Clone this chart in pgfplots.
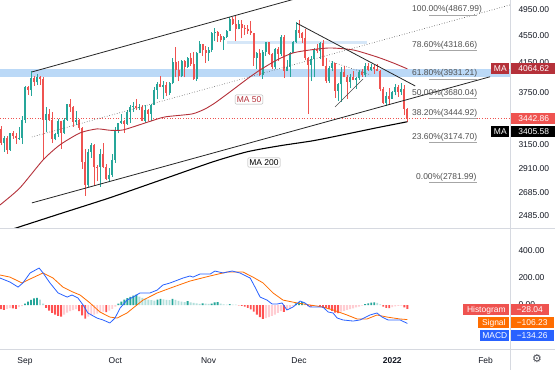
\documentclass[border=0pt]{standalone}
\usepackage{pgfplots}
\pgfplotsset{compat=1.18}
\usepackage{pgfplotstable}
\usepackage{fontspec}
\setmainfont{Liberation Sans}
\newfontfamily\symfont{DejaVu Sans}
\newcommand\tvfont{\fontsize{8.5}{10}\selectfont}
\definecolor{cgreen}{HTML}{26A69A}
\definecolor{cred}{HTML}{EF5350}
\definecolor{ma50}{HTML}{B5313A}
\definecolor{bandblue}{HTML}{BBD9F7}
\definecolor{bandblue2}{HTML}{D6E7F8}
\definecolor{hdg}{HTML}{26A69A}
\definecolor{hlg}{HTML}{B2DFDB}
\definecolor{hdr}{HTML}{FF5252}
\definecolor{hlr}{HTML}{FFCDD2}
\definecolor{macdblue}{HTML}{2962FF}
\definecolor{sigorange}{HTML}{FF6D00}
\definecolor{txt}{HTML}{131722}
\definecolor{fibtxt}{HTML}{505050}
\definecolor{sep}{HTML}{D6D9E0}

\pgfplotstableread{
d o h l c
-8 3325 3360 3150 3175
-7 3175 3250 3080 3225
-6 3225 3250 3060 3100
-5 3100 3285 3090 3275
-4 3275 3300 3215 3245
-3 3245 3280 3165 3225
-2 3225 3350 3205 3230
-1 3230 3470 3160 3430
0 3430 3840 3390 3830
1 3830 3840 3730 3785
2 3785 4030 3715 3940
3 3940 3970 3840 3885
4 3885 3990 3850 3950
5 3950 3970 3850 3925
6 3925 3950 3000 3430
7 3430 3575 3290 3495
8 3495 3550 3420 3425
9 3425 3520 3170 3210
10 3210 3285 3200 3265
11 3265 3440 3240 3410
12 3410 3420 3110 3285
13 3285 3450 3270 3430
14 3430 3620 3420 3610
15 3610 3680 3520 3575
16 3575 3590 3350 3400
17 3400 3530 3365 3430
18 3430 3440 3310 3330
19 3330 3350 2910 2975
20 2975 3110 2660 2760
21 2760 3110 2740 3080
22 3080 3170 3020 3155
23 3155 3160 2750 2930
24 2930 2950 2790 2925
25 2925 3110 2740 3060
26 3060 3170 2920 2930
27 2930 2960 2800 2810
28 2810 2920 2790 2850
29 2850 3055 2835 3000
30 3000 3350 2970 3310
31 3310 3390 3275 3390
32 3390 3490 3380 3420
33 3420 3430 3280 3385
34 3385 3540 3370 3515
35 3515 3600 3390 3580
36 3580 3640 3520 3590
37 3590 3670 3540 3560
38 3560 3620 3540 3575
39 3575 3600 3410 3415
40 3415 3600 3395 3545
41 3545 3550 3410 3495
42 3495 3615 3410 3605
43 3605 3820 3600 3790
44 3790 3890 3680 3865
45 3865 3970 3820 3830
46 3830 3900 3680 3850
47 3850 3890 3710 3745
48 3745 3890 3730 3880
49 3880 4210 3860 4155
50 4155 4370 3950 4055
51 4055 4170 3900 3975
52 3975 4180 3950 4170
53 4170 4190 3950 4085
54 4085 4230 4080 4220
55 4220 4290 4110 4130
56 4130 4300 3920 3925
57 3925 4300 3900 4285
58 4285 4460 4280 4415
59 4415 4420 4240 4325
60 4325 4390 4150 4290
61 4290 4370 4170 4325
62 4325 4600 4300 4590
63 4590 4665 4460 4605
64 4605 4610 4450 4535
65 4535 4560 4440 4475
66 4475 4530 4330 4520
67 4520 4630 4510 4620
68 4620 4830 4610 4810
69 4810 4840 4710 4730
70 4730 4868 4460 4640
71 4640 4780 4640 4725
72 4725 4790 4500 4665
73 4665 4710 4550 4650
74 4650 4700 4570 4620
75 4620 4770 4550 4575
76 4575 4580 4110 4210
77 4210 4300 4060 4290
78 4290 4340 3970 3985
79 3985 4330 3930 4300
80 4300 4440 4250 4440
81 4440 4450 4260 4270
82 4270 4280 4060 4085
83 4085 4360 4060 4340
84 4340 4370 4170 4270
85 4270 4550 4250 4525
86 4525 4550 3940 4040
87 4040 4180 4030 4095
88 4095 4300 3960 4290
89 4290 4460 4280 4445
90 4445 4760 4430 4630
91 4630 4780 4510 4585
92 4585 4600 4430 4510
93 4510 4650 4180 4220
94 4220 4230 3500 4120
95 4120 4240 3900 4200
96 4200 4360 3950 4350
97 4350 4420 4280 4310
98 4310 4440 4200 4435
99 4435 4480 4100 4110
100 4110 4220 3880 3900
101 3900 4100 3880 4080
102 4080 4170 4030 4140
103 4140 4150 3690 3780
104 3780 3880 3650 3860
105 3860 4090 3640 4020
106 4020 4100 3950 3960
107 3960 3980 3680 3890
108 3890 3990 3810 3960
109 3960 4040 3910 3920
110 3920 3960 3800 3940
111 3940 4050 3920 4020
112 4020 4060 3960 3980
113 3980 4140 3960 4110
114 4110 4150 4030 4045
115 4045 4130 4040 4095
116 4095 4120 4000 4065
117 4065 4125 4035 4040
118 4040 4045 3770 3800
119 3800 3830 3610 3630
120 3630 3760 3590 3710
121 3710 3810 3620 3680
122 3680 3770 3675 3765
123 3765 3860 3720 3830
124 3830 3850 3700 3760
125 3760 3880 3730 3795
126 3795 3850 3480 3550
127 3550 3560 3400 3442.86
}\candles

\pgfplotstableread{
d h k
-8 -30 3
-7 -35 3
-6 -28 4
-5 -22 4
-4 -25 3
-3 -28 3
-2 -15 4
-1 -8 4
0 10 1
1 25 1
2 38 1
3 48 1
4 52 1
5 40 2
6 10 2
7 -20 3
8 -40 3
9 -58 3
10 -70 3
11 -80 3
12 -85 3
13 -70 4
14 -55 4
15 -45 4
16 -38 4
17 -30 4
18 -45 3
19 -75 3
20 -100 3
21 -85 4
22 -75 4
23 -70 4
24 -62 4
25 -55 4
26 -48 4
27 -52 3
28 -40 4
29 -28 4
30 -12 4
31 10 1
32 25 1
33 40 1
34 50 1
35 60 1
36 68 1
37 75 1
38 62 2
39 52 2
40 46 2
41 40 2
42 35 2
43 33 2
44 40 1
45 45 1
46 42 2
47 38 2
48 35 2
49 44 1
50 38 2
51 30 2
52 25 2
53 22 2
54 28 1
55 20 2
56 15 2
57 12 2
58 8 2
59 12 1
60 10 2
61 8 2
62 10 1
63 20 1
64 22 1
65 10 2
66 5 2
67 3 2
68 6 1
69 3 2
70 2 2
71 -2 3
72 -6 3
73 -12 3
74 -20 3
75 -32 3
76 -48 3
77 -70 3
78 -88 3
79 -102 3
80 -95 4
81 -88 4
82 -80 4
83 -70 4
84 -58 4
85 -45 4
86 -50 3
87 -38 4
88 -22 4
89 -8 4
90 12 1
91 20 1
92 22 1
93 12 2
94 -8 3
95 -12 3
96 -6 4
97 -5 4
98 -10 3
99 -20 3
100 -22 3
101 -30 3
102 -42 3
103 -55 3
104 -60 3
105 -48 4
106 -42 4
107 -36 4
108 -30 4
109 -24 4
110 -18 4
111 -12 4
112 -4 4
113 6 1
114 12 1
115 17 1
116 20 1
117 15 2
118 5 2
119 -12 3
120 -20 3
121 -22 3
122 -16 4
123 -10 4
124 -7 4
125 -5 4
126 -18 3
127 -28.04 3
}\hist

\pgfplotstablegetrowsof{\candles}
\pgfmathtruncatemacro{\lastrow}{\pgfplotsretval-1}

\tikzset{lbl/.style={font=\tvfont, inner sep=0pt, minimum height=11bp, text=white}}

\begin{document}
\begin{tikzpicture}
\useasboundingbox (0,0) rectangle (555bp,370bp);
\fill[white] (0,0) rectangle (555bp,370bp);

% ---------- main price panel ----------
\begin{axis}[
  at={(0bp,142bp)}, anchor=south west,
  scale only axis, width=510bp, height=228bp,
  xmin=-8.3, xmax=161.1,
  ymode=log, ymin=2387, ymax=5118,
  axis line style={draw=none},
  xtick=\empty,
  ytick={2485,2685,2910,3150,3750,4150,4550,4950},
  yticklabels={2485.00,2685.00,2910.00,3150.00,3750.00,4150.00,4550.00,4950.00},
  minor ytick={},
  yticklabel pos=right,
  major tick length=0pt, minor tick length=0pt,
  tick style={draw=none},
  yticklabel style={anchor=west, xshift=5bp, font=\tvfont, text=txt},
  clip=true,
]
% horizontal zones
\addplot[fill=bandblue, draw=none, forget plot] coordinates {(-8.3,3950) (161.1,3950) (161.1,4065) (-8.3,4065)} -- cycle;
\addplot[fill=bandblue2, draw=none, forget plot] coordinates {(67.1,4411) (113.6,4411) (113.6,4465) (67.1,4465)} -- cycle;
% last price dotted line
\addplot[cred, dotted, line width=0.7bp, forget plot] coordinates {(-8.3,3442.86) (161.1,3442.86)};

% candles
\pgfplotsinvokeforeach{0,...,\lastrow}{%
  \pgfplotstablegetelem{#1}{d}\of\candles \edef\cd{\pgfplotsretval}%
  \pgfplotstablegetelem{#1}{o}\of\candles \edef\co{\pgfplotsretval}%
  \pgfplotstablegetelem{#1}{h}\of\candles \edef\ch{\pgfplotsretval}%
  \pgfplotstablegetelem{#1}{l}\of\candles \edef\cl{\pgfplotsretval}%
  \pgfplotstablegetelem{#1}{c}\of\candles \edef\cc{\pgfplotsretval}%
  \ifdim\cc pt<\co pt \def\ccol{cred}\else\def\ccol{cgreen}\fi
  \edef\candleplot{%
    \noexpand\addplot[\ccol, line width=0.7bp, forget plot] coordinates {(\cd,\cl) (\cd,\ch)};%
    \noexpand\addplot[\ccol, line width=2bp, forget plot] coordinates {(\cd,\co) (\cd,\cc)};%
  }%
  \candleplot
}

% MA 50
\addplot[ma50, line width=0.9bp, smooth, tension=0.4, forget plot] coordinates {
(-8.3,2578) (-1.7,2729) (6.0,2997) (11.6,3152) (18.3,3281) (23.9,3325) (28.2,3310) (32.6,3314)
(40.9,3403) (46.5,3461) (55.5,3496) (59.8,3555) (63.1,3627) (68.1,3763) (73.8,3930) (78.1,4050)
(83.7,4188) (89.0,4287) (94.7,4330) (101.3,4359) (109.0,4330) (116.9,4230) (122.3,4146) (127,4064.62)};
% MA 200
\addplot[black, line width=1.1bp, smooth, tension=0.4, forget plot] coordinates {
(-8.3,2345) (-2.7,2389) (11.6,2503) (28.2,2641) (47.2,2823) (62.5,2979) (73.8,3080)
(84.7,3143) (95.7,3196) (105.6,3260) (116.9,3338) (127,3405.58)};

% channel and trend lines
\addplot[black!85, line width=0.8bp, forget plot] coordinates {(2.3,4023) (91.4,5161)};
\addplot[black!85, line width=0.8bp, forget plot] coordinates {(2.3,2596) (154.5,3959)};
\addplot[black!70, dotted, line width=0.6bp, forget plot] coordinates {(2.3,3237) (161.1,5033)};
\addplot[black!85, line width=0.8bp, forget plot] coordinates {(90.3,4735) (129.6,3839)};
\addplot[black!70, dotted, line width=0.6bp, forget plot] coordinates {(101,4174) (114.9,3983)};
\addplot[black!70, line width=0.5bp, forget plot] coordinates {(103,3579) (112.3,3930)};

% fibonacci levels
\addplot[gray!70, line width=0.5bp, forget plot] coordinates {(134.2,4867.99) (150,4867.99)};
\addplot[gray!70, line width=0.5bp, forget plot] coordinates {(134.2,4318.66) (150,4318.66)};
\addplot[gray!70, line width=0.5bp, forget plot] coordinates {(134.2,3931.21) (150,3931.21)};
\addplot[gray!70, line width=0.5bp, forget plot] coordinates {(134.2,3680.04) (150,3680.04)};
\addplot[gray!70, line width=0.5bp, forget plot] coordinates {(134.2,3444.92) (150,3444.92)};
\addplot[gray!70, line width=0.5bp, forget plot] coordinates {(134.2,3174.70) (150,3174.70)};
\addplot[gray!70, line width=0.5bp, forget plot] coordinates {(134.2,2781.99) (150,2781.99)};
\end{axis}

% ---------- MACD panel ----------
\begin{axis}[
  at={(0bp,21bp)}, anchor=south west,
  scale only axis, width=510bp, height=120bp,
  xmin=-8.3, xmax=161.1, ymin=-321, ymax=555,
  axis line style={draw=none},
  xtick={0,30,61,91,122,153},
  xticklabels={Sep,Oct,Nov,Dec,\textbf{2022},Feb},
  xticklabel style={anchor=base, yshift=-14bp, font=\tvfont, text=txt},
  ytick={0,200,400}, yticklabels={0.00,200.00,400.00},
  yticklabel pos=right,
  yticklabel style={anchor=west, xshift=5bp, font=\tvfont, text=txt},
  major tick length=0pt, tick style={draw=none},
  clip=true,
]
\addplot[ybar, bar width=1.9bp, fill=hdg, draw=none, forget plot, y filter/.expression={\thisrow{k}==1 ? y : nan}] table[x=d, y=h] {\hist};
\addplot[ybar, bar width=1.9bp, fill=hlg, draw=none, forget plot, y filter/.expression={\thisrow{k}==2 ? y : nan}] table[x=d, y=h] {\hist};
\addplot[ybar, bar width=1.9bp, fill=hdr, draw=none, forget plot, y filter/.expression={\thisrow{k}==3 ? y : nan}] table[x=d, y=h] {\hist};
\addplot[ybar, bar width=1.9bp, fill=hlr, draw=none, forget plot, y filter/.expression={\thisrow{k}==4 ? y : nan}] table[x=d, y=h] {\hist};
% signal
\addplot[sigorange, line width=0.8bp, forget plot] coordinates {
(-8.3,219) (-5.0,204) (-1.0,161) (1.7,190) (6.0,234) (9.3,197) (12.6,131) (15.9,95) (18.3,73)
(21.6,15) (24.9,-51) (28.2,-88) (30.6,-95) (33.9,-58) (35.9,-22) (39.2,36) (43.9,88) (49.2,131)
(54.8,175) (61.5,212) (67.1,241) (72.4,241) (75.7,204) (79.1,161) (82.4,88) (85.7,36) (90.4,15)
(94.7,0) (99.0,-15) (102.3,-36) (107.0,-73) (110.3,-102) (113.6,-102) (116.9,-73) (120.3,-88)
(124.6,-102) (127,-106.23)};
% MACD
\addplot[macdblue, line width=0.8bp, forget plot] coordinates {
(-8.3,197) (-5.0,168) (-2.3,131) (-0.7,161) (1.7,234) (4.7,270) (6.0,234) (8.3,161) (11.0,88)
(14.0,58) (15.6,73) (17.6,51) (19.3,0) (20.9,-58) (23.9,-95) (25.9,-109) (28.2,-131) (29.9,-95)
(31.6,-22) (33.9,36) (35.9,58) (38.2,88) (41.5,88) (43.9,109) (45.8,146) (48.2,161) (52.5,197)
(54.8,212) (55.8,204) (58.1,226) (61.5,226) (63.1,248) (65.8,234) (68.8,248) (71.4,234) (74.8,197)
(76.4,131) (78.1,58) (80.4,36) (82.1,7) (83.7,7) (85.4,15) (87.0,-36) (89.0,-15) (91.4,29)
(93.0,15) (94.7,-15) (99.0,-15) (100.7,-51) (102.3,-58) (103.7,-95) (105.6,-109) (109.0,-117)
(111.3,-109) (114.6,-73) (116.9,-58) (118.6,-88) (120.6,-109) (124.6,-109) (127,-134.26)};
\end{axis}

% separators
\draw[sep, line width=0.8bp] (0,141.5bp) -- (555bp,141.5bp);
\draw[sep, line width=0.8bp] (0,21bp) -- (555bp,21bp);
\draw[sep, line width=0.8bp] (510bp,0) -- (510bp,370bp);

% fib labels
\begin{scope}[every node/.style={font=\tvfont, text=fibtxt, anchor=west, inner sep=0pt}]
\node at (412bp,361bp) {100.00\%(4867.99)};
\node at (412bp,325bp) {78.60\%(4318.66)};
\node at (412bp,297bp) {61.80\%(3931.21)};
\node at (412bp,277bp) {50.00\%(3680.04)};
\node at (412bp,257bp) {38.20\%(3444.92)};
\node at (412bp,233bp) {23.60\%(3174.70)};
\node at (416bp,193bp) {0.00\%(2781.99)};
\end{scope}

% line labels
\node[draw=gray!60, fill=white, text=ma50, font=\tvfont, inner sep=1.6bp, rounded corners=1bp] at (249bp,270.5bp) {MA 50};
\node[draw=gray!60, fill=white, text=black, font=\tvfont, inner sep=1.6bp, rounded corners=1bp] at (264bp,207.5bp) {MA 200};

% price-scale labels
\node[lbl, fill=ma50, anchor=east, minimum width=18bp] at (509.5bp,301bp) {MA};
\node[lbl, fill=ma50, anchor=west, minimum width=46bp] at (510.5bp,301bp) {4064.62};
\node[lbl, fill=cred, anchor=west, minimum width=46bp] at (510.5bp,251.4bp) {3442.86};
\node[lbl, fill=black, anchor=east, minimum width=18bp] at (509.5bp,238bp) {MA};
\node[lbl, fill=black, anchor=west, minimum width=46bp] at (510.5bp,238bp) {3405.58};

\node[lbl, fill=cred, anchor=east, minimum width=46bp] at (509.5bp,60bp) {Histogram};
\node[lbl, fill=cred, anchor=west, minimum width=38bp] at (510.5bp,60bp) {−28.04};
\node[lbl, fill=sigorange, anchor=east, minimum width=31bp] at (509.5bp,47bp) {Signal};
\node[lbl, fill=sigorange, anchor=west, minimum width=43bp] at (510.5bp,47bp) {−106.23};
\node[lbl, fill=macdblue, anchor=east, minimum width=29bp] at (509.5bp,34bp) {MACD};
\node[lbl, fill=macdblue, anchor=west, minimum width=43bp] at (510.5bp,34bp) {−134.26};

\node[text=txt!80, font=\symfont\fontsize{11}{11}\selectfont, inner sep=0pt] at (537bp,11bp) {⚙};
\end{tikzpicture}
\end{document}
